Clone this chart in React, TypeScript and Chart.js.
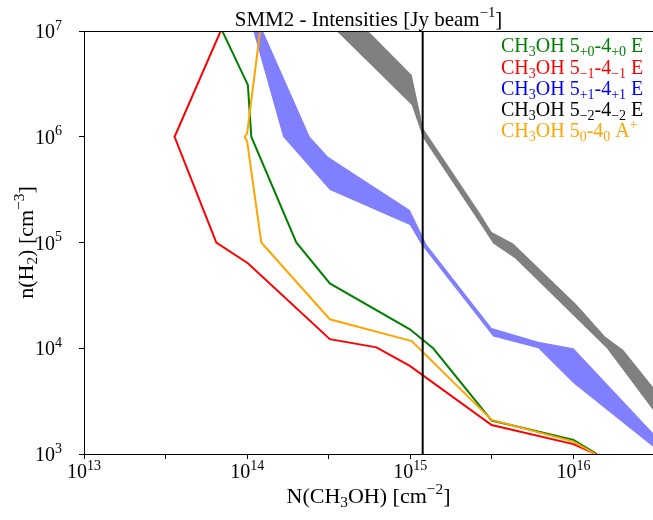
import React, { useEffect, useRef } from 'react';
import { Chart, registerables } from 'chart.js';

Chart.register(...registerables);

// ---------- axis ranges & ticks ----------
const X_MIN = 1e13;
const X_MAX = 3.07e16;
const Y_MIN = 1e3;
const Y_MAX = 1e7;
const X_TICKS = [1e13, 3.162e13, 1e14, 3.162e14, 1e15, 3.162e15, 1e16];
const X_TICK_LABELS = ['10^13', '', '10^14', '', '10^15', '', '10^16'];
const Y_TICKS = [1e3, 1e4, 1e5, 1e6, 1e7];
const Y_TICK_LABELS = ['10^3', '10^4', '10^5', '10^6', '10^7'];

// ---------- series: N(CH3OH) [cm^-2] vs n(H2) [cm^-3] ----------
const GREEN_N = [7.04e13, 1.01e14, 1.06e14, 2.0e14, 3.21e14, 9.93e14, 1.38e15, 3.15e15, 1.0e16, 1.39e16];
const GREEN_NH2 = [1e7, 3.09e6, 1e6, 1e5, 4.1e4, 1.51e4, 1e4, 2.07e3, 1.36e3, 1e3];

const RED_N = [6.88e13, 3.59e13, 6.47e13, 1.01e14, 3.21e14, 6.2e14, 9.93e14, 3.15e15, 9.97e15, 1.37e16];
const RED_NH2 = [1e7, 1e6, 1e5, 6.36e4, 1.22e4, 1.02e4, 6.8e3, 1.88e3, 1.24e3, 1e3];

const ORANGE_N = [1.2e14, 1.0e14, 9.66e13, 1.0e14, 1.22e14, 3.21e14, 1.02e15, 3.15e15, 1.0e16, 1.36e16];
const ORANGE_NH2 = [1e7, 1.08e6, 1e6, 9e5, 1e5, 1.88e4, 1.17e4, 2.1e3, 1.31e3, 1e3];

// blue band (5+1-4+1 E): lower/left edge and upper/right edge
const BLUE_LO_N = [1.09e14, 1.66e14, 3.21e14, 9.93e14, 1.17e15, 3.22e15, 6.08e15, 1.0e16, 3.07e16];
const BLUE_LO_NH2 = [1e7, 1e6, 3.13e5, 1.46e5, 9.5e4, 1.29e4, 1e4, 4.67e3, 1.17e3];
const BLUE_HI_N = [1.25e14, 2.42e14, 3.13e14, 9.93e14, 1.26e15, 3.15e15, 6.08e15, 1.0e16, 3.07e16];
const BLUE_HI_NH2 = [1e7, 1e6, 6.47e5, 2.03e5, 9.5e4, 1.55e4, 1.15e4, 1e4, 1.58e3];

// gray band (5-2-4-2 E)
const GRAY_LO_N = [3.53e14, 1.02e15, 1.2e15, 2.67e15, 3.22e15, 4.38e15, 1.6e16, 3.07e16];
const GRAY_LO_NH2 = [1e7, 2.0e6, 9.7e5, 1.52e5, 9.8e4, 7.1e4, 1e4, 2.6e3];
const GRAY_HI_N = [5.51e14, 1.02e15, 1.2e15, 2.67e15, 3.15e15, 4.27e15, 1.05e16, 1.56e16, 2.02e16, 3.07e16];
const GRAY_HI_NH2 = [1e7, 3.84e6, 1.2e6, 1.89e5, 1.26e5, 9.8e4, 2.56e4, 1.29e4, 9.6e3, 4.3e3];

// vertical reference line
const VLINE_N = 1.19e15;

// ---------- texts ----------
type Kind = 'n' | 'sub' | 'sup';
type Part = [string, Kind];

const TITLE: Part[] = [['SMM2 - Intensities [Jy beam', 'n'], ['\u22121', 'sup'], [']', 'n']];
const X_LABEL: Part[] = [['N(CH', 'n'], ['3', 'sub'], ['OH) [cm', 'n'], ['\u22122', 'sup'], [']', 'n']];
const Y_LABEL: Part[] = [['n(H', 'n'], ['2', 'sub'], [') [cm', 'n'], ['\u22123', 'sup'], [']', 'n']];

const LEGEND_LABELS: Part[][] = [
  [['CH', 'n'], ['3', 'sub'], ['OH 5', 'n'], ['+0', 'sub'], ['-4', 'n'], ['+0', 'sub'], [' E', 'n']],
  [['CH', 'n'], ['3', 'sub'], ['OH 5', 'n'], ['\u22121', 'sub'], ['-4', 'n'], ['\u22121', 'sub'], [' E', 'n']],
  [['CH', 'n'], ['3', 'sub'], ['OH 5', 'n'], ['+1', 'sub'], ['-4', 'n'], ['+1', 'sub'], [' E', 'n']],
  [['CH', 'n'], ['3', 'sub'], ['OH 5', 'n'], ['\u22122', 'sub'], ['-4', 'n'], ['\u22122', 'sub'], [' E', 'n']],
  [['CH', 'n'], ['3', 'sub'], ['OH 5', 'n'], ['0', 'sub'], ['-4', 'n'], ['0', 'sub'], [' A', 'n'], ['+', 'sup']],
];
const LEGEND_COLORS = ['#008000', '#ff0000', '#0000ff', '#000000', '#ffa500'];

const FONT = "'Liberation Serif', 'DejaVu Serif', 'Times New Roman', serif";

function pts(xs: number[], ys: number[]) {
  return xs.map((x, i) => ({ x, y: ys[i] }));
}
function band(loX: number[], loY: number[], hiX: number[], hiY: number[]) {
  return [...pts(loX, loY), ...pts(hiX, hiY).reverse()];
}
function parseTick(s: string): Part[] {
  const [b, e] = s.split('^');
  return [[b, 'n'], [e, 'sup']];
}

function richWidth(ctx: CanvasRenderingContext2D, parts: Part[], size: number) {
  let w = 0;
  for (const [t, k] of parts) {
    ctx.font = `${k === 'n' ? size : size * 0.7}px ${FONT}`;
    w += ctx.measureText(t).width;
  }
  return w;
}
function drawRich(
  ctx: CanvasRenderingContext2D,
  parts: Part[],
  x: number,
  y: number,
  size: number,
  color: string,
  align: 'left' | 'center' | 'right'
) {
  const w = richWidth(ctx, parts, size);
  let cx = align === 'center' ? x - w / 2 : align === 'right' ? x - w : x;
  ctx.fillStyle = color;
  ctx.textAlign = 'left';
  ctx.textBaseline = 'alphabetic';
  for (const [t, k] of parts) {
    const s = k === 'n' ? size : size * 0.7;
    ctx.font = `${s}px ${FONT}`;
    const dy = k === 'sub' ? size * 0.2 : k === 'sup' ? -size * 0.42 : 0;
    ctx.fillText(t, cx, y + dy);
    cx += ctx.measureText(t).width;
  }
}

const textPlugin = {
  id: 'richTexts',
  afterDraw(chart: any) {
    const { ctx, chartArea: a, scales } = chart;
    ctx.save();
    // top spine
    ctx.strokeStyle = '#000';
    ctx.lineWidth = 1;
    ctx.beginPath();
    ctx.moveTo(a.left, Math.floor(a.top) + 0.5);
    ctx.lineTo(a.right, Math.floor(a.top) + 0.5);
    ctx.stroke();

    const cxm = (a.left + a.right) / 2;
    drawRich(ctx, TITLE, cxm, 26, 21, '#000', 'center');
    drawRich(ctx, X_LABEL, cxm, 503, 22, '#000', 'center');

    ctx.save();
    ctx.translate(33, (a.top + a.bottom) / 2);
    ctx.rotate(-Math.PI / 2);
    drawRich(ctx, Y_LABEL, 0, 0, 22, '#000', 'center');
    ctx.restore();

    X_TICKS.forEach((v, i) => {
      const lab = X_TICK_LABELS[i];
      if (!lab) return;
      const px = scales.x.getPixelForValue(v);
      drawRich(ctx, parseTick(lab), px, 478, 20, '#000', 'center');
    });
    Y_TICKS.forEach((v, i) => {
      const py = scales.y.getPixelForValue(v);
      drawRich(ctx, parseTick(Y_TICK_LABELS[i]), 62, py + 7, 20, '#000', 'right');
    });

    LEGEND_LABELS.forEach((parts, i) => {
      drawRich(ctx, parts, 501, 52.3 + i * 21.25, 20, LEGEND_COLORS[i], 'left');
    });
    ctx.restore();
  },
};

export default function App() {
  const ref = useRef<HTMLCanvasElement>(null);
  useEffect(() => {
    document.body.style.margin = '0';
    const canvas = ref.current!;
    const lineDs = (xs: number[], ys: number[], color: string, order: number) => ({
      data: pts(xs, ys),
      showLine: true,
      borderColor: color,
      borderWidth: 2,
      pointRadius: 0,
      fill: false,
      tension: 0,
      order,
    });
    const bandDs = (data: any[], color: string, order: number) => ({
      data,
      showLine: true,
      borderColor: 'rgba(0,0,0,0)',
      borderWidth: 0,
      backgroundColor: color,
      pointRadius: 0,
      fill: 'shape',
      tension: 0,
      order,
    });
    const chart = new Chart(canvas, {
      type: 'scatter',
      data: {
        datasets: [
          lineDs([VLINE_N, VLINE_N], [Y_MIN, Y_MAX], '#000000', 0) as any,
          lineDs(ORANGE_N, ORANGE_NH2, '#ffa500', 1) as any,
          lineDs(RED_N, RED_NH2, '#ff0000', 2) as any,
          lineDs(GREEN_N, GREEN_NH2, '#008000', 3) as any,
          bandDs(band(BLUE_LO_N, BLUE_LO_NH2, BLUE_HI_N, BLUE_HI_NH2), '#8080ff', 10) as any,
          bandDs(band(GRAY_LO_N, GRAY_LO_NH2, GRAY_HI_N, GRAY_HI_NH2), '#808080', 11) as any,
        ],
      },
      options: {
        responsive: false,
        animation: false,
        devicePixelRatio: 1,
        layout: { padding: { top: 31, left: 0, right: 0, bottom: 0 } },
        plugins: {
          legend: { display: false },
          title: { display: false },
          tooltip: { enabled: false },
        },
        scales: {
          x: {
            type: 'logarithmic',
            position: 'bottom',
            min: X_MIN,
            max: X_MAX,
            afterBuildTicks: (s: any) => {
              s.ticks = X_TICKS.map((v) => ({ value: v }));
            },
            afterFit: (s: any) => {
              s.height = 66;
            },
            ticks: { display: false, autoSkip: false },
            grid: { drawOnChartArea: false, drawTicks: true, tickLength: 5, color: '#000', lineWidth: 1 },
            border: { display: true, color: '#000', width: 1 },
          },
          y: {
            type: 'logarithmic',
            position: 'left',
            min: Y_MIN,
            max: Y_MAX,
            afterBuildTicks: (s: any) => {
              s.ticks = Y_TICKS.map((v) => ({ value: v }));
            },
            afterFit: (s: any) => {
              s.width = 84;
            },
            ticks: { display: false, autoSkip: false },
            grid: { drawOnChartArea: false, drawTicks: true, tickLength: 5, color: '#000', lineWidth: 1 },
            border: { display: true, color: '#000', width: 1 },
          },
        },
      },
      plugins: [textPlugin],
    } as any);
    return () => chart.destroy();
  }, []);
  return (
    <div style={{ position: 'fixed', left: 0, top: 0, width: 653, height: 520, background: '#fff' }}>
      <canvas ref={ref} width={653} height={520} style={{ display: 'block', width: 653, height: 520 }} />
    </div>
  );
}
